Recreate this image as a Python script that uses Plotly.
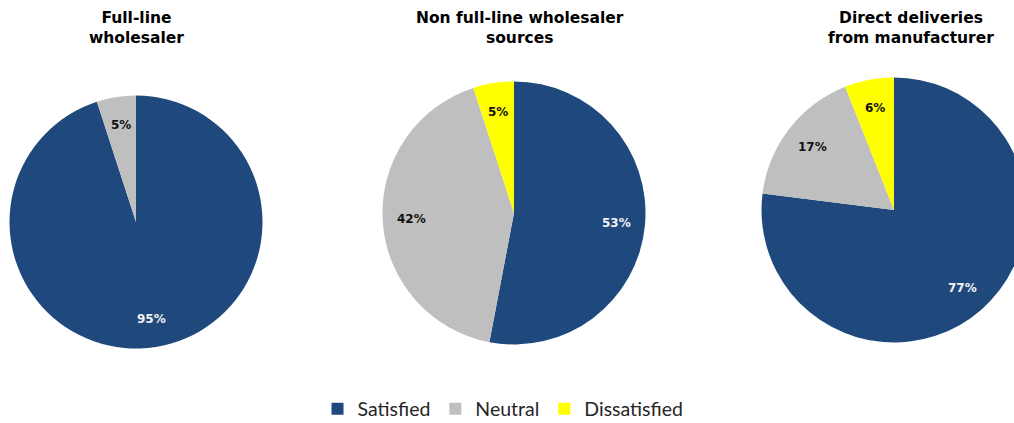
import math
import plotly.graph_objects as go

categories = ["Satisfied", "Neutral", "Dissatisfied"]
titles = ["<b>Full-line<br>wholesaler</b>",
          "<b>Non full-line wholesaler<br>sources</b>",
          "<b>Direct deliveries<br>from manufacturer</b>"]
full_line = [95, 5, 0]
non_full_line = [53, 42, 5]
direct = [77, 17, 6]
series = [full_line, non_full_line, direct]

colors = ["#1F497D", "#BFBFBF", "#FFFF00"]
label_colors = ["#F2F2F2", "#111111", "#111111"]

# plot size (wider than the 1014px window so the third pie is cut at the edge)
W, H = 1040, 423
# target pie geometry in page pixels: center x, center y, radius
geo = [(136, 222, 126.5), (514, 213, 131.5), (894, 210, 132.5)]
title_x = [136, 520, 911]
title_y = 28
label_frac = 0.78


def px(x):
    return x / W


def py(y):
    return 1 - y / H


fig = go.Figure()
for i, (vals, (cx, cy, r)) in enumerate(zip(series, geo)):
    fig.add_trace(go.Pie(
        labels=categories, values=vals, sort=False, direction="clockwise",
        marker=dict(colors=colors, line=dict(width=0)),
        textinfo="none",
        domain=dict(x=[px(cx - r), px(cx + r)], y=[py(cy + r), py(cy - r)]),
        showlegend=(i == 0), hoverinfo="label+percent",
    ))
    fig.add_annotation(text=titles[i], x=px(title_x[i]), y=py(title_y),
                       xref="paper", yref="paper", showarrow=False,
                       xanchor="center", yanchor="middle",
                       font=dict(family="DejaVu Sans", size=15.5, color="black"))
    total = sum(vals)
    cum = 0
    for j, v in enumerate(vals):
        if v > 0:
            mid = (cum + v / 2) / total * 2 * math.pi
            lx = cx + label_frac * r * math.sin(mid)
            ly = cy - label_frac * r * math.cos(mid)
            fig.add_annotation(text="<b>%d%%</b>" % round(100 * v / total),
                               x=px(lx), y=py(ly), xref="paper", yref="paper",
                               showarrow=False, xanchor="center", yanchor="middle",
                               font=dict(family="DejaVu Sans", size=12,
                                         color=label_colors[j]))
        cum += v

fig.update_layout(
    width=W, height=H, autosize=False,
    margin=dict(l=0, r=0, t=0, b=0, autoexpand=False),
    paper_bgcolor="white", plot_bgcolor="white",
    legend=dict(orientation="h", x=px(503), xanchor="center", y=py(409), yanchor="middle",
                font=dict(family="Lato", size=19.5, color="#262626"),
                itemwidth=30, traceorder="normal"),
)
fig.write_html("out.html",
               config={"responsive": False, "displayModeBar": False},
               post_script="document.body.style.margin='0';"
                           "document.body.style.overflow='hidden';"
                           "document.documentElement.style.overflow='hidden';")
